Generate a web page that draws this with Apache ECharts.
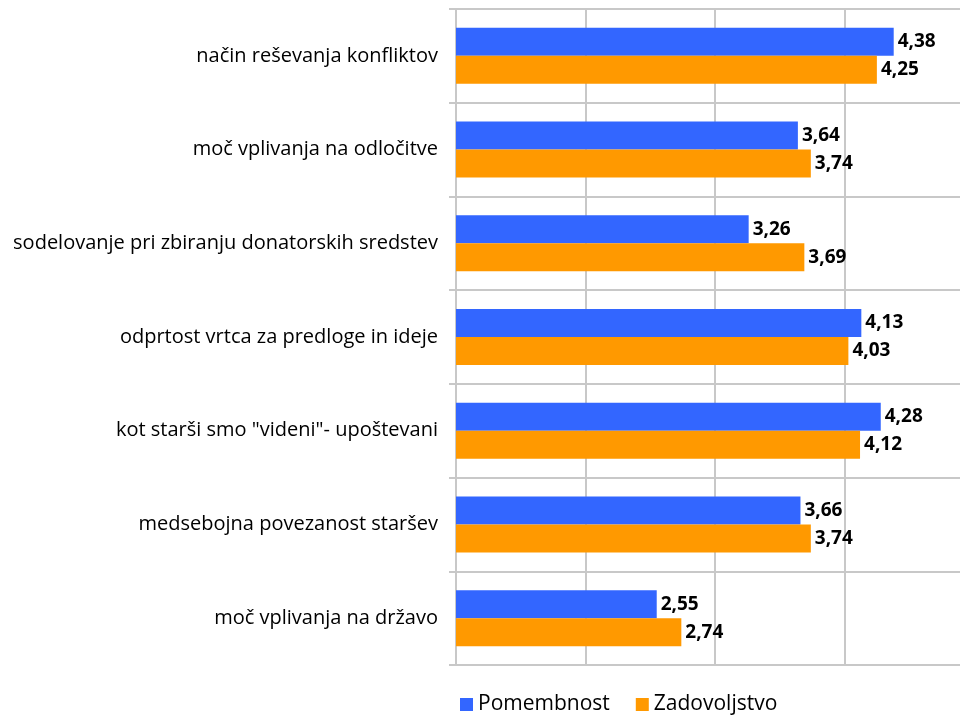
<!DOCTYPE html>
<html>
<head>
<meta charset="utf-8">
<script src="https://cdn.jsdelivr.net/npm/echarts@6/dist/echarts.min.js"></script>
<style>
	html, body { margin: 0; padding: 0; background: #fff; }
	#chart { width: 960px; height: 720px; }
</style>
</head>
<body>
<div id="chart"></div>
<script>
const categories = [
	"način reševanja konfliktov",
	"moč vplivanja na odločitve",
	"sodelovanje pri zbiranju donatorskih sredstev",
	"odprtost vrtca za predloge in ideje",
	"kot starši smo \"videni\"- upoštevani",
	"medsebojna povezanost staršev",
	"moč vplivanja na državo"
];
const pomembnost = [4.38, 3.64, 3.26, 4.13, 4.28, 3.66, 2.55];
const zadovoljstvo = [4.25, 3.74, 3.69, 4.03, 4.12, 3.74, 2.74];
const seriesNames = ["Pomembnost", "Zadovoljstvo"];

const font = "'Open Sans', 'Noto Sans', sans-serif";
const gridColor = "#c8c8c8";

const chart = echarts.init(document.getElementById("chart"));

const valueLabel = {
	show: true,
	position: "right",
	distance: 4,
	fontFamily: font,
	fontSize: 19,
	fontWeight: "bold",
	color: "#000",
	formatter: (p) => p.value.toFixed(2).replace(".", ",")
};

const option = {
	animation: false,
	grid: {
		left: 456,
		width: 518,
		top: 9,
		bottom: 55,
		outerBoundsMode: "none"
	},
	xAxis: {
		type: "value",
		min: 1,
		max: 5,
		interval: 1,
		axisLabel: { show: false },
		axisTick: { show: false },
		axisLine: { show: true, lineStyle: { color: gridColor, width: 2 } },
		splitLine: { show: true, lineStyle: { color: gridColor, width: 2 } }
	},
	yAxis: {
		type: "category",
		inverse: true,
		data: categories,
		axisLine: { show: true, lineStyle: { color: gridColor, width: 2 } },
		axisTick: { show: true, length: 7, lineStyle: { color: gridColor, width: 2 } },
		splitLine: { show: true, lineStyle: { color: gridColor, width: 2 } },
		axisLabel: {
			margin: 18,
			fontFamily: font,
			fontSize: 20,
			color: "#000"
		}
	},
	legend: {
		top: 694,
		left: 460,
		padding: 0,
		itemWidth: 13,
		itemHeight: 13,
		itemGap: 26,
		icon: "rect",
		textStyle: {
			fontFamily: font,
			fontSize: 21,
			color: "#000"
		},
		data: seriesNames
	},
	series: [
		{
			name: seriesNames[0],
			type: "bar",
			data: pomembnost,
			barWidth: 28,
			barGap: "0%",
			itemStyle: { color: "#3366ff" },
			label: valueLabel
		},
		{
			name: seriesNames[1],
			type: "bar",
			data: zadovoljstvo,
			barWidth: 28,
			barGap: "0%",
			itemStyle: { color: "#ff9900" },
			label: valueLabel
		}
	]
};

chart.setOption(option);
</script>
</body>
</html>
